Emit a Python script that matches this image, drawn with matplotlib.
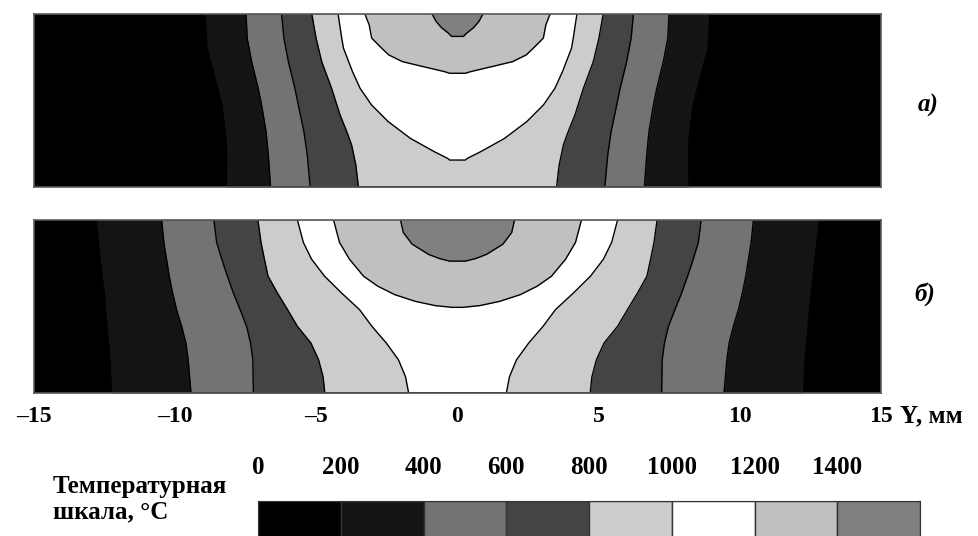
import numpy as np
import matplotlib.pyplot as plt

plt.rcParams['font.family'] = ['Liberation Serif', 'DejaVu Serif']
plt.rcParams['font.weight'] = 'bold'

# temperature scale
levels = [0, 200, 400, 600, 800, 1000, 1200, 1400]
shades = ['#000000', '#141414', '#737373', '#444444',
          '#cccccc', '#ffffff', '#c0c0c0', '#808080']

ZMAX = 6.1  # depth of the section, mm

# panel a) isotherms: depth z (mm) and half width y (mm)
a200_z = [0, 1.20, 2.03, 3.20, 4.39, 5.09, 6.1]
a200_y = [8.94, 8.88, 8.65, 8.35, 8.20, 8.18, 8.20]
a400_z = [0, 0.85, 1.68, 2.62, 3.20, 4.15, 4.98, 6.1]
a400_y = [7.49, 7.45, 7.29, 7.06, 6.94, 6.78, 6.70, 6.62]
a600_z = [0, 0.85, 1.68, 2.62, 3.20, 4.15, 4.98, 6.1]
a600_y = [6.23, 6.15, 5.99, 5.76, 5.64, 5.44, 5.32, 5.22]
a800_z = [0, 0.85, 1.68, 2.62, 3.56, 4.15, 4.62, 5.33, 6.1]
a800_y = [5.16, 5.01, 4.81, 4.46, 4.16, 3.92, 3.75, 3.60, 3.51]
a1000_z = [0, 0.85, 1.20, 2.03, 2.62, 3.20, 3.79, 4.39, 4.86, 5.09, 5.15]
a1000_y = [4.23, 4.10, 4.04, 3.72, 3.45, 3.05, 2.46, 1.66, 0.81, 0.35, 0.28]
a1200_z = [0, 0.38, 0.85, 1.20, 1.44, 1.68, 1.85, 2.03, 2.09]
a1200_y = [3.28, 3.13, 3.04, 2.69, 2.44, 1.95, 1.24, 0.47, 0.28]
a1400_z = [0, 0.26, 0.49, 0.67, 0.79]
a1400_y = [0.90, 0.76, 0.56, 0.33, 0.21]

# panel б)
b200_z = [0, 1.38, 2.57, 3.75, 4.93, 6.1]
b200_y = [12.81, 12.66, 12.52, 12.42, 12.31, 12.26]
b400_z = [0, 0.79, 1.98, 2.57, 3.16, 3.75, 4.34, 4.93, 6.1]
b400_y = [10.48, 10.40, 10.21, 10.09, 9.95, 9.77, 9.62, 9.54, 9.44]
b600_z = [0, 0.79, 1.38, 1.98, 2.57, 3.16, 3.75, 4.34, 4.93, 6.1]
b600_y = [8.63, 8.53, 8.35, 8.15, 7.94, 7.70, 7.47, 7.33, 7.25, 7.23]
b800_z = [0, 0.79, 1.38, 1.98, 2.57, 3.16, 3.75, 4.34, 4.93, 5.53, 6.1]
b800_y = [7.07, 6.96, 6.84, 6.71, 6.38, 6.02, 5.67, 5.19, 4.92, 4.76, 4.70]
b1000_z = [0, 0.79, 1.38, 1.98, 2.57, 3.16, 3.75, 4.34, 4.93, 5.53, 6.1]
b1000_y = [5.67, 5.46, 5.17, 4.71, 4.11, 3.47, 3.03, 2.52, 2.09, 1.84, 1.73]
b1200_z = [0, 0.79, 1.38, 1.98, 2.33, 2.63, 2.87, 3.02, 3.08]
b1200_y = [4.39, 4.18, 3.83, 3.33, 2.83, 2.23, 1.49, 0.78, 0.18]
b1400_z = [0, 0.44, 0.85, 1.21, 1.36, 1.45]
b1400_y = [2.02, 1.92, 1.61, 1.03, 0.64, 0.28]

ticks = [-15, -10, -5, 0, 5, 10, 15]


def draw_field(ax, isos):
    ax.set_facecolor(shades[0])
    for lev, z, hw in isos:
        z = np.array(z)
        hw = np.array(hw)
        c = shades[levels.index(lev)]
        ax.fill_betweenx(z, -hw, hw, color=c, lw=0)
        ax.plot(np.r_[-hw, hw[::-1]], np.r_[z, z[::-1]], color='black', lw=1)
    ax.set_xlim(-15, 15)
    ax.set_ylim(ZMAX, 0)
    for s in ax.spines.values():
        s.set_color('#5a5a5a')
        s.set_linewidth(1.2)


fig = plt.figure(figsize=(9.79, 5.36), dpi=100)

ax_a = fig.add_axes([34/979, 1-187/536, 847/979, 173/536])
draw_field(ax_a, [(200, a200_z, a200_y), (400, a400_z, a400_y), (600, a600_z, a600_y),
                  (800, a800_z, a800_y), (1000, a1000_z, a1000_y),
                  (1200, a1200_z, a1200_y), (1400, a1400_z, a1400_y)])
ax_a.set_xticks([])
ax_a.set_yticks([])

ax_b = fig.add_axes([34/979, 1-393/536, 847/979, 173/536])
draw_field(ax_b, [(200, b200_z, b200_y), (400, b400_z, b400_y), (600, b600_z, b600_y),
                  (800, b800_z, b800_y), (1000, b1000_z, b1000_y),
                  (1200, b1200_z, b1200_y), (1400, b1400_z, b1400_y)])
ax_b.set_yticks([])
ax_b.set_xticks(ticks)
ax_b.set_xticklabels([str(t).replace('-', '\u2013') for t in ticks], fontsize=17)
ax_b.tick_params(axis='x', length=0, pad=9)

fig.text(900/979, 1-416/536, 'Y, мм', fontsize=18, ha='left', va='center')
fig.text(928/979, 1-105/536, 'а)', fontsize=18, style='italic', ha='center', va='center')
fig.text(925/979, 1-294/536, 'б)', fontsize=18, style='italic', ha='center', va='center')

# temperature scale bar
ax_c = fig.add_axes([258/979, -0.06, 662/979, 35/536 + 0.06])
ax_c.bar(levels, 1, width=200, align='edge', color=shades, edgecolor='#333333', lw=1)
ax_c.set_xlim(0, 1600)
ax_c.set_ylim(0, 1)
ax_c.set_yticks([])
ax_c.xaxis.tick_top()
ax_c.set_xticks(levels)
ax_c.set_xticklabels([str(l) for l in levels], fontsize=18)
ax_c.tick_params(axis='x', length=0, pad=16)
for s in ax_c.spines.values():
    s.set_color('#333333')

fig.text(53/979, 1-486/536, 'Температурная', fontsize=18, ha='left', va='center')
fig.text(53/979, 1-512/536, 'шкала, °C', fontsize=18, ha='left', va='center')

fig.savefig('out.png', dpi=100)
